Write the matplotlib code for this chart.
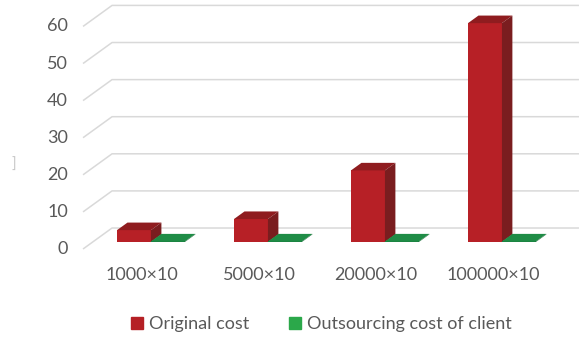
import matplotlib
matplotlib.use('Agg')
import matplotlib.pyplot as plt
from matplotlib.patches import Polygon
import numpy as np

plt.rcParams['font.family'] = ['Lato', 'DejaVu Sans']

categories = ['1000×10', '5000×10', '20000×10', '100000×10']
original_cost = [3.2, 6.2, 19.3, 59.0]
outsourcing_cost = [0.15, 0.15, 0.15, 0.15]
y_ticks = [0, 10, 20, 30, 40, 50, 60]
series_names = ['Original cost', 'Outsourcing cost of client']

# oblique "3d" look: one unit of depth moves things right/up by this much
kx, ky = 0.248, 5.66
d0, dd = 0.333, 0.36        # bar front depth, bar thickness
w = 0.29
wall_left, wall_right = -0.504, 3.487

red_front, red_top, red_side = '#B72026', '#8F1C1F', '#7A1D1F'
grn_front, grn_top, grn_side = '#1B7F3F', '#1F8C46', '#176A35'
grid_c = '#D9D9D9'
text_c = '#595959'

fig = plt.figure(figsize=(5.84, 3.4), dpi=100)
ax = fig.add_axes([0, 0, 1, 1])
ax.set_xlim(-1.2137, 3.778)
ax.set_ylim(-24.53, 67.12)
ax.axis('off')

# gridlines: left wall diagonal + back wall horizontal
for v in y_ticks:
    ax.plot([wall_left, wall_left + kx, wall_right + kx], [v, v + ky, v + ky],
            color=grid_c, lw=1.1, zorder=1, solid_capstyle='butt')
    ax.text(wall_left - 0.13, v, str(v), ha='right', va='center',
            fontsize=13, color=text_c)


def draw_bar(xl, v, front, top, side):
    xr = xl + w
    b = d0 * ky
    ax.bar(xl + d0 * kx, v, bottom=b, width=w, align='edge',
           color=front, zorder=3, linewidth=0)
    ox, oy = dd * kx, dd * ky
    ax.add_patch(Polygon([(xl + d0 * kx, b + v), (xr + d0 * kx, b + v),
                          (xr + d0 * kx + ox, b + v + oy), (xl + d0 * kx + ox, b + v + oy)],
                         closed=True, color=top, zorder=3, lw=0))
    ax.add_patch(Polygon([(xr + d0 * kx, b), (xr + d0 * kx, b + v),
                          (xr + d0 * kx + ox, b + v + oy), (xr + d0 * kx + ox, b + oy)],
                         closed=True, color=side, zorder=3, lw=0))


x = np.arange(len(categories))
for i in x:
    draw_bar(i - 0.296, original_cost[i], red_front, red_top, red_side)
    draw_bar(i - 0.006, outsourcing_cost[i], grn_front, grn_top, grn_side)
    ax.text(i, -7.0, categories[i], ha='center', va='center',
            fontsize=13, color=text_c)

# small clipped mark on the far left
ax.text(-1.094, 22.6, ']', ha='center', va='center', fontsize=11, color='#c8c8c8')

handles = [plt.Rectangle((0, 0), 1, 1, color='#B52025'),
           plt.Rectangle((0, 0), 1, 1, color='#2BA84A')]
fig.legend(handles, series_names, loc='center', bbox_to_anchor=(0.5505, 0.047),
           ncol=2, frameon=False, fontsize=13, handlelength=0.65, handleheight=0.65,
           handletextpad=0.35, columnspacing=2.2, labelcolor=text_c)

fig.savefig('out.png', dpi=100)
